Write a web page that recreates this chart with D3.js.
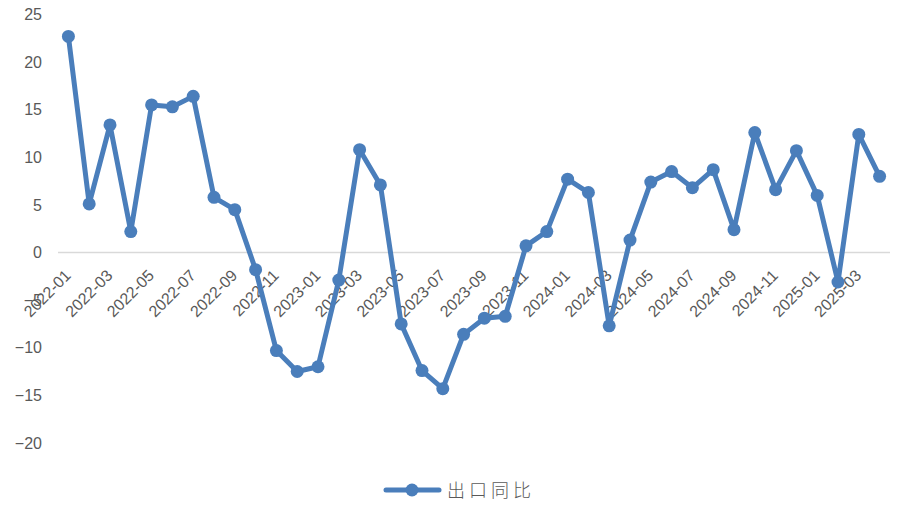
<!DOCTYPE html>
<html><head><meta charset="utf-8">
<script src="https://cdn.jsdelivr.net/npm/d3@7"></script>
<style>body{margin:0;background:#fff}</style>
</head><body>
<svg id="c" width="907" height="514"></svg>
<script>
const months = ["2022-01","2022-02","2022-03","2022-04","2022-05","2022-06","2022-07","2022-08","2022-09","2022-10","2022-11","2022-12",
"2023-01","2023-02","2023-03","2023-04","2023-05","2023-06","2023-07","2023-08","2023-09","2023-10","2023-11","2023-12",
"2024-01","2024-02","2024-03","2024-04","2024-05","2024-06","2024-07","2024-08","2024-09","2024-10","2024-11","2024-12",
"2025-01","2025-02","2025-03","2025-04"];
const exportYoY = [22.7,5.1,13.4,2.2,15.5,15.3,16.4,5.8,4.5,-1.8,-10.3,-12.5,
-12.0,-2.9,10.8,7.1,-7.5,-12.4,-14.3,-8.6,-6.9,-6.7,0.7,2.2,
7.7,6.3,-7.7,1.3,7.4,8.5,6.8,8.7,2.4,12.6,6.6,10.7,
6.0,-3.1,12.4,8.0];
const yTicks = [25,20,15,10,5,0,-5,-10,-15,-20];
const xTickLabels = months.filter((d,i)=>i%2===0);
const seriesName = "出口同比";

const svg = d3.select("#c");
const color = "#4a7ebb";
const x = d3.scalePoint().domain(months).range([68.4, 879.6]);
const y = d3.scaleLinear().domain([-20,25]).range([442.9, 14.5]);

// zero line
svg.append("line").attr("x1",58).attr("x2",890).attr("y1",y(0)).attr("y2",y(0))
  .attr("stroke","#d9d9d9").attr("stroke-width",1.5);

// y axis labels
const ya = svg.append("g").attr("transform","translate(42,0)")
  .call(d3.axisLeft(y).tickValues(yTicks).tickSize(0).tickPadding(0).tickFormat(d3.format("d")));
ya.select(".domain").remove();
ya.selectAll("text").attr("font-family","Liberation Sans, Arial, sans-serif").attr("font-size",16).attr("fill","#595959");

// x axis labels at zero line
const xa = svg.append("g").attr("transform",`translate(0,${y(0)})`)
  .call(d3.axisBottom(x).tickValues(xTickLabels).tickSize(0).tickPadding(0));
xa.select(".domain").remove();
xa.selectAll("text")
  .attr("font-family","Liberation Sans, Arial, sans-serif").attr("font-size",16).attr("fill","#595959")
  .attr("text-anchor","end").attr("dy",null).attr("y",0)
  .attr("transform","translate(3,24) rotate(-45)");

// line
svg.append("path").datum(exportYoY)
  .attr("fill","none").attr("stroke",color).attr("stroke-width",5).attr("stroke-linejoin","round")
  .attr("d", d3.line().x((d,i)=>x(months[i])).y(d=>y(d)));
svg.append("g").selectAll("circle").data(exportYoY).join("circle")
  .attr("cx",(d,i)=>x(months[i])).attr("cy",d=>y(d)).attr("r",6.5).attr("fill",color);

// legend
const lg = svg.append("g");
lg.append("line").attr("x1",386).attr("x2",439).attr("y1",490).attr("y2",490).attr("stroke",color).attr("stroke-width",5).attr("stroke-linecap","round");
lg.append("circle").attr("cx",412).attr("cy",490).attr("r",6.5).attr("fill",color);
lg.append("text").attr("x",447).attr("y",497).text(seriesName)
  .attr("font-family","Noto Sans CJK SC, sans-serif").attr("font-weight",300).attr("font-size",18).attr("fill","#595959").attr("letter-spacing",4);
</script>
</body></html>
